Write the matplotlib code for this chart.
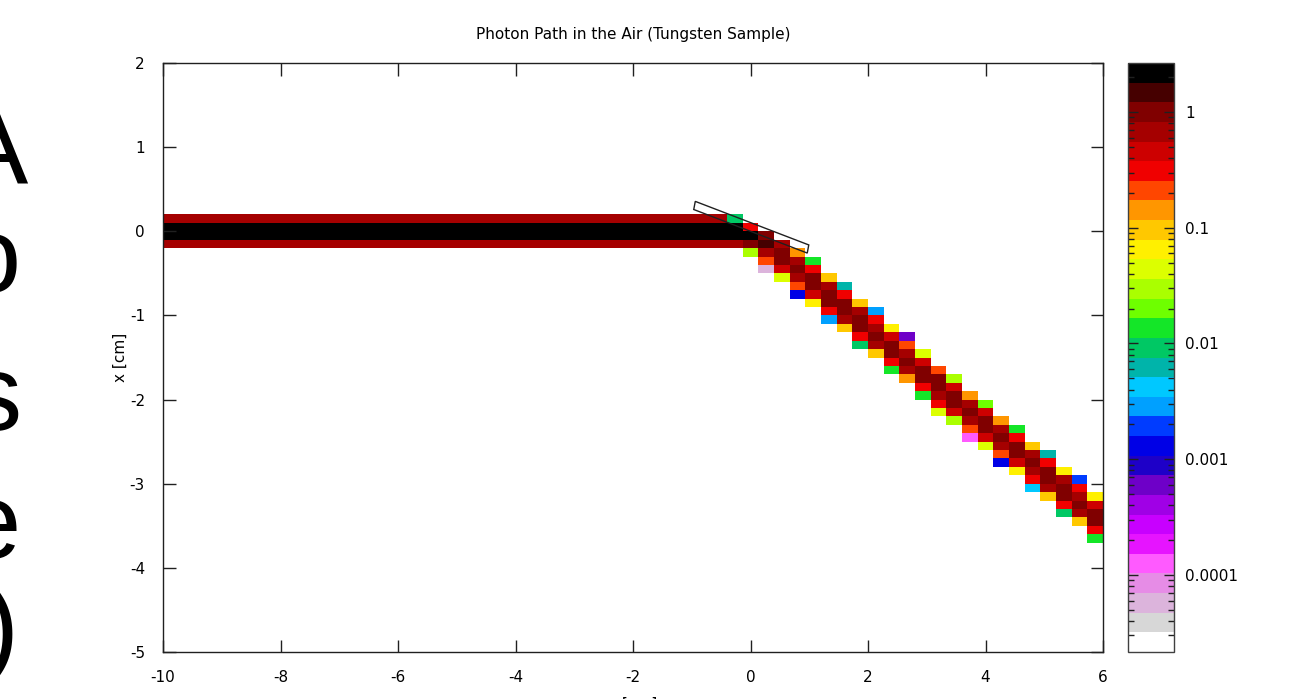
import numpy as np
import matplotlib
matplotlib.use("Agg")
import matplotlib.pyplot as plt
from matplotlib.colors import ListedColormap, LogNorm
from matplotlib.patches import Polygon
from matplotlib.ticker import FixedLocator

plt.rcParams['font.family'] = ['DejaVu Sans']
plt.rcParams['axes.unicode_minus'] = False

# ---------------- data ----------------
title = "Photon Path in the Air (Tungsten Sample)"
x_label = "z [cm]"
y_label = "x [cm]"

# histogram grid
x_range = (-10.0, 6.0)
y_range = (-5.0, 2.0)
n_cols = 60
n_rows = 70

# incident beam (columns 0..beam_last_col), values from beam_top_row downwards
beam_last_col = 35
beam_top_row = 51
beam_profile = [0.68, 2.2, 2.2, 0.68]

# reflected beam: for each column, top row and values downwards
diag_cols = list(range(36, 60))
diag_top_rows = [51, 50, 49, 48, 47, 46, 44, 43, 41, 40, 38, 37,
                 35, 33, 32, 30, 29, 27, 26, 24, 23, 21, 20, 18]
diag_values = [
    [0.009, 2.2, 2.2, 0.68],
    [0.31, 2.2, 1.0, 0.03],
    [1.0, 1.45, 0.68, 0.21, 5.8e-5],
    [0.68, 1.0, 1.0, 0.46, 0.044],
    [0.14, 0.68, 1.0, 0.68, 0.21, 0.0013],
    [0.0136, 0.31, 1.0, 1.0, 0.46, 0.065],
    [0.096, 0.68, 1.0, 1.0, 0.31, 0.0029],
    [0.0062, 0.31, 1.0, 1.0, 0.68, 0.096],
    [0.096, 0.68, 1.0, 1.0, 0.31, 0.0092],
    [0.0029, 0.31, 0.68, 1.0, 0.68, 0.096],
    [0.065, 0.46, 1.0, 1.0, 0.31, 0.0136],
    [0.0006, 0.21, 0.68, 1.0, 0.68, 0.14],
    [0.044, 0.46, 1.0, 1.0, 0.31, 0.0136],
    [0.21, 1.0, 1.0, 0.68, 0.31, 0.044],
    [0.03, 0.46, 1.0, 1.0, 0.46, 0.03],
    [0.14, 0.68, 1.0, 0.68, 0.21, 0.000126],
    [0.02, 0.46, 1.0, 1.0, 0.46, 0.044],
    [0.14, 0.68, 1.0, 0.68, 0.21, 0.0013],
    [0.0136, 0.31, 1.0, 1.0, 0.46, 0.065],
    [0.096, 0.68, 1.0, 0.68, 0.31, 0.0042],
    [0.0062, 0.31, 1.0, 1.0, 0.68, 0.096],
    [0.065, 0.68, 1.0, 1.0, 0.31, 0.0092],
    [0.0019, 0.31, 0.68, 1.0, 0.68, 0.096],
    [0.065, 0.46, 1.0, 1.0, 0.31, 0.0136],
]

# sample plate (tilted slab)
sample_length = 2.0
sample_thickness = 0.1
sample_tilt_deg = 15.0

# colour scale
cbar_min = 2.16e-5
cbar_max = 2.65
cbar_ticks = [1e-4, 1e-3, 1e-2, 1e-1, 1.0]
cbar_tick_labels = ["0.0001", "0.001", "0.01", "0.1", "1"]
palette = ['#ffffff', '#d7d7d7', '#dcb4dc', '#e68ce6', '#ff5aff', '#e614ff',
           '#c800ff', '#a000e6', '#6e00c8', '#1e00c8', '#0000e6', '#003cff',
           '#00a0ff', '#00c8ff', '#00b4aa', '#00c864', '#14e628', '#6eff00',
           '#aaff00', '#dcff00', '#fff000', '#ffc800', '#ff9600', '#ff4600',
           '#f00000', '#cd0000', '#a50000', '#800000', '#460000', '#000000']

x_ticks = list(range(-10, 7, 2))
y_ticks = list(range(-5, 3))

# side text fragments (cut at left edge)
side_letters = ["A", "o", "s", "e", ")"]

# ---------------- build grid ----------------
Z = np.zeros((n_rows, n_cols))
for c in range(beam_last_col + 1):
    for k, v in enumerate(beam_profile):
        Z[beam_top_row - k, c] = v
for c, top, vals in zip(diag_cols, diag_top_rows, diag_values):
    for k, v in enumerate(vals):
        Z[top - k, c] = v
Zm = np.ma.masked_less_equal(Z, 0)
xe = np.linspace(x_range[0], x_range[1], n_cols + 1)
ye = np.linspace(y_range[0], y_range[1], n_rows + 1)

W, H = 1292, 699
fig = plt.figure(figsize=(W / 100, H / 100), dpi=100)
ax = fig.add_axes([163 / W, 1 - 652 / H, 940 / W, 589 / H])
cax = fig.add_axes([1128 / W, 1 - 652 / H, 46 / W, 589 / H])

cmap = ListedColormap(palette)
norm = LogNorm(vmin=cbar_min, vmax=cbar_max)
mesh = ax.pcolormesh(xe, ye, Zm, cmap=cmap, norm=norm, shading='flat',
                     edgecolors='none', antialiased=False)

# sample outline
th = np.deg2rad(sample_tilt_deg)
d = np.array([np.cos(th), -np.sin(th)]) * sample_length / 2
nrm = np.array([np.sin(th), np.cos(th)]) * sample_thickness
corners = [-d, d, d + nrm, -d + nrm]
ax.add_patch(Polygon(corners, closed=True, fill=False, edgecolor='#202020',
                     linewidth=1.0, zorder=5))

ax.set_xlim(*x_range)
ax.set_ylim(*y_range)
ax.set_xticks(x_ticks)
ax.set_yticks(y_ticks)
ax.set_xticklabels([str(t) for t in x_ticks])
ax.set_yticklabels([str(t) for t in y_ticks])
ax.tick_params(direction='in', length=9, width=1, top=True, right=True,
               labelsize=11, color='#202020')
ax.tick_params(axis='x', pad=13)
ax.tick_params(axis='y', pad=13)
for s in ax.spines.values():
    s.set_color('#202020')
    s.set_linewidth(1.0)

cb = fig.colorbar(mesh, cax=cax)
cb.set_ticks(cbar_ticks, labels=cbar_tick_labels)
minors = [m * 10.0 ** e for e in range(-5, 1) for m in range(2, 10)
          if cbar_min <= m * 10.0 ** e <= cbar_max]
cax.yaxis.set_minor_locator(FixedLocator(minors))
cax.tick_params(which='both', direction='in', left=True, right=True,
                labelleft=False, labelright=True, labelsize=11, color='#202020')
cax.tick_params(which='major', length=7, width=1, pad=8)
cax.tick_params(which='minor', length=4, width=1)
cb.outline.set_edgecolor('#404040')
cb.outline.set_linewidth(1.0)

fig.text(633 / W, 1 - 34 / H, title, ha='center', va='center', fontsize=11)
fig.text(120 / W, 1 - 357 / H, y_label, rotation=90, ha='center', va='center',
         fontsize=11)
fig.text(633 / W, 1 - 709 / H, x_label, ha='center', va='baseline', fontsize=11)

letter_pos = [(28, 184), (21, 292), (21, 430), (21, 558), (19, 662)]
for ch, (px, py) in zip(side_letters, letter_pos):
    fig.text(px / W, 1 - py / H, ch, ha='right', va='baseline', fontsize=78,
             family='Liberation Sans', color='black')

fig.savefig("out.png", dpi=100)
